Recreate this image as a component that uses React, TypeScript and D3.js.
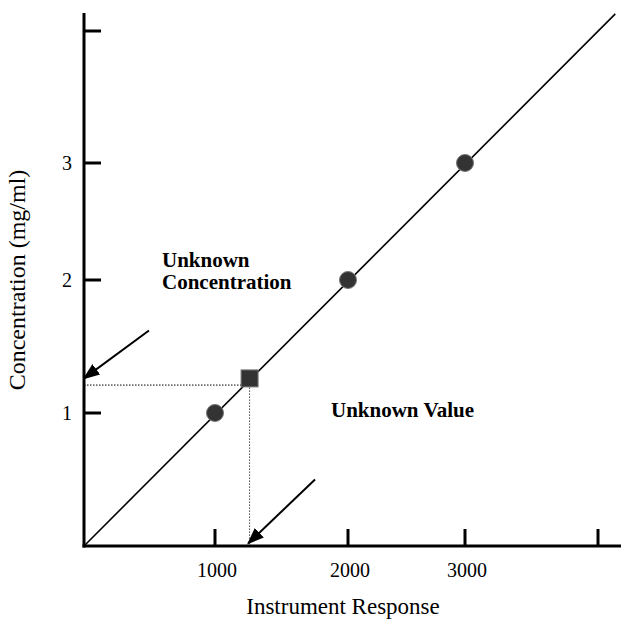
import React, { useEffect, useRef } from 'react';
import * as d3 from 'd3';

// calibration standards
const stdResponse = [1000, 2000, 3000];
const stdConc = [1, 2, 3];

// unknown sample
const unknownResponse = 1260;
const unknownConc = 1.26;
const guideConc = 1.21;

// calibration line end points
const lineResponse = [0, 4130];
const lineConc = [0, 4.13];

// axis ticks (as drawn in the original, spacing is not quite even)
const xTickValues = [0, 1000, 2000, 3000, 4000];
const xTickLabels = ['', '1000', '2000', '3000', ''];
const yTickValues = [0, 1, 2, 3, 4];
const yTickLabels = ['', '1', '2', '3', ''];

// annotation arrows [from, to] in data units
const concArrow = [[496, 1.62], [0, 1.26]];
const valueArrow = [[1752, 0.5], [1250, 0.02]];

const W = 621;
const H = 624;
const FONT = '"Liberation Serif", "Times New Roman", serif';

export default function App() {
  const svgRef = useRef<SVGSVGElement>(null);

  useEffect(() => {
    if (!svgRef.current) return;
    const svg = d3.select(svgRef.current);
    svg.selectAll('*').remove();

    const x = d3.scaleLinear().domain(xTickValues).range([84, 215, 348, 465, 598]);
    const y = d3.scaleLinear().domain(yTickValues).range([546, 413, 280, 163, 31]);

    const defs = svg.append('defs');
    defs.append('marker')
      .attr('id', 'head')
      .attr('viewBox', '0 0 10 10')
      .attr('refX', 9)
      .attr('refY', 5)
      .attr('markerWidth', 17)
      .attr('markerHeight', 13)
      .attr('markerUnits', 'userSpaceOnUse')
      .attr('orient', 'auto')
      .attr('preserveAspectRatio', 'none')
      .append('path')
      .attr('d', 'M0,0 L10,5 L0,10 Z')
      .attr('fill', '#000');

    // axes
    svg.append('line')
      .attr('x1', x(0)).attr('y1', 13).attr('x2', x(0)).attr('y2', y(0) + 1.5)
      .attr('stroke', '#000').attr('stroke-width', 3);
    svg.append('line')
      .attr('x1', x(0) - 1.5).attr('y1', y(0)).attr('x2', W).attr('y2', y(0))
      .attr('stroke', '#000').attr('stroke-width', 3);

    // x ticks point upward, y ticks point right
    svg.selectAll('.xtick')
      .data(xTickValues.slice(1))
      .enter().append('line')
      .attr('x1', d => x(d)).attr('x2', d => x(d))
      .attr('y1', y(0)).attr('y2', y(0) - 17)
      .attr('stroke', '#000').attr('stroke-width', 3);
    svg.selectAll('.ytick')
      .data(yTickValues.slice(1))
      .enter().append('line')
      .attr('x1', x(0)).attr('x2', x(0) + 17)
      .attr('y1', d => y(d)).attr('y2', d => y(d))
      .attr('stroke', '#000').attr('stroke-width', 3);

    svg.selectAll('.xlab')
      .data(xTickValues)
      .enter().append('text')
      .attr('x', d => x(d) + 2)
      .attr('y', 577)
      .attr('text-anchor', 'middle')
      .style('font-family', FONT)
      .style('font-size', '20px')
      .text((_, i) => xTickLabels[i]);
    svg.selectAll('.ylab')
      .data(yTickValues)
      .enter().append('text')
      .attr('x', 72)
      .attr('y', d => y(d) + 7)
      .attr('text-anchor', 'end')
      .style('font-family', FONT)
      .style('font-size', '20px')
      .text((_, i) => yTickLabels[i]);

    // axis titles
    svg.append('text')
      .attr('x', 343).attr('y', 614)
      .attr('text-anchor', 'middle')
      .style('font-family', FONT)
      .style('font-size', '23px')
      .text('Instrument Response');
    svg.append('text')
      .attr('transform', `translate(25,280) rotate(-90)`)
      .attr('text-anchor', 'middle')
      .style('font-family', FONT)
      .style('font-size', '24px')
      .text('Concentration (mg/ml)');

    // dotted guides to the unknown
    svg.append('line')
      .attr('x1', x(0)).attr('y1', y(guideConc))
      .attr('x2', x(unknownResponse)).attr('y2', y(guideConc))
      .attr('stroke', '#000').attr('stroke-width', 1).attr('stroke-dasharray', '1.5,1.5');
    svg.append('line')
      .attr('x1', x(unknownResponse)).attr('y1', y(unknownConc))
      .attr('x2', x(unknownResponse)).attr('y2', y(0))
      .attr('stroke', '#444').attr('stroke-width', 1).attr('stroke-dasharray', '1.5,1.5');

    // calibration line
    const line = d3.line<number>()
      .x((_, i) => x(lineResponse[i]))
      .y(d => y(d));
    svg.append('path')
      .attr('d', line(lineConc))
      .attr('fill', 'none')
      .attr('stroke', '#000')
      .attr('stroke-width', 1.6);

    // standards
    svg.selectAll('.std')
      .data(stdResponse)
      .enter().append('circle')
      .attr('cx', d => x(d))
      .attr('cy', (_, i) => y(stdConc[i]))
      .attr('r', 8.5)
      .attr('fill', '#333')
      .attr('stroke', '#777')
      .attr('stroke-width', 1);

    // unknown sample
    svg.append('rect')
      .attr('x', x(unknownResponse) - 8.5)
      .attr('y', y(unknownConc) - 8.5)
      .attr('width', 17)
      .attr('height', 17)
      .attr('fill', '#333')
      .attr('stroke', '#777')
      .attr('stroke-width', 1);

    // arrows
    [concArrow, valueArrow].forEach(a => {
      svg.append('line')
        .attr('x1', x(a[0][0])).attr('y1', y(a[0][1]))
        .attr('x2', x(a[1][0])).attr('y2', y(a[1][1]))
        .attr('stroke', '#000')
        .attr('stroke-width', 2)
        .attr('marker-end', 'url(#head)');
    });

    // annotations
    const t = svg.append('text')
      .style('font-family', FONT)
      .style('font-size', '21px')
      .style('font-weight', 'bold');
    t.append('tspan').attr('x', 162).attr('y', 267).text('Unknown');
    t.append('tspan').attr('x', 162).attr('y', 289).text('Concentration');
    svg.append('text')
      .attr('x', 331).attr('y', 417)
      .style('font-family', FONT)
      .style('font-size', '21px')
      .style('font-weight', 'bold')
      .text('Unknown Value');
  }, []);

  return (
    <div style={{ position: 'absolute', left: 0, top: 0 }}>
      <svg ref={svgRef} width={W} height={H} style={{ display: 'block', background: '#fff' }} />
    </div>
  );
}
